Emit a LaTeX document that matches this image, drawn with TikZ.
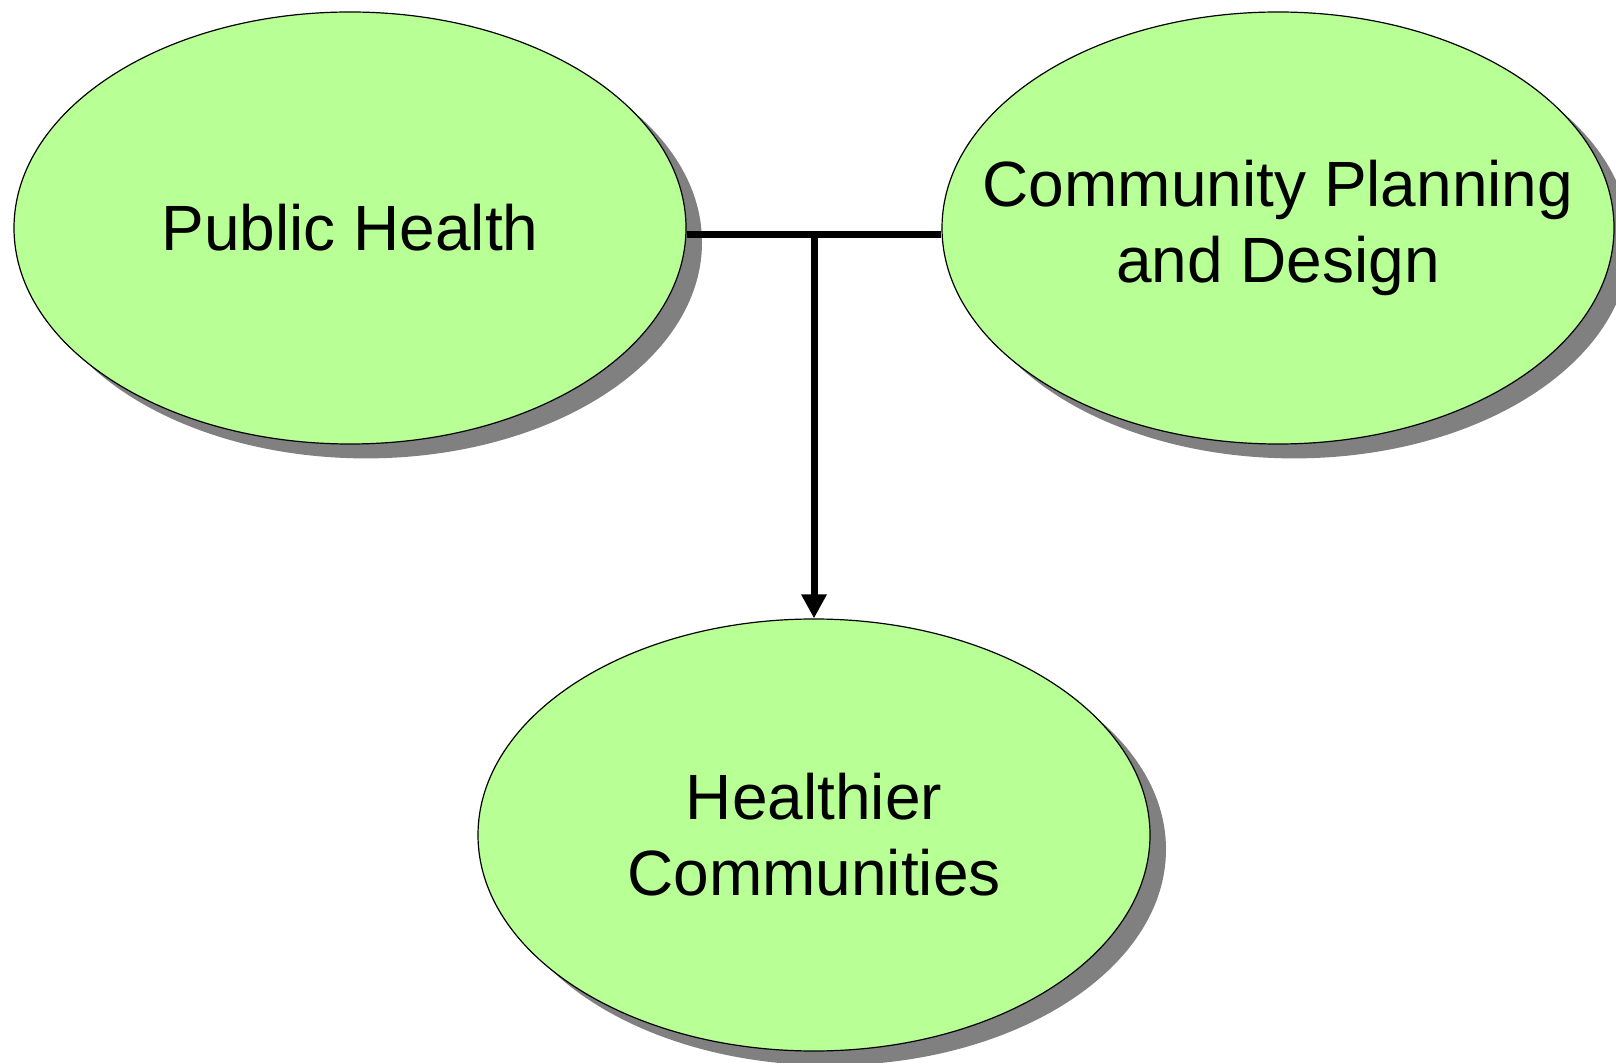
\documentclass[tikz,border=0pt]{standalone}
\usepackage{fontspec}
\setmainfont{Liberation Sans}
\usetikzlibrary{arrows.meta,shapes.geometric,shadows}
\definecolor{leaf}{RGB}{184,255,150}

\begin{document}
\begin{tikzpicture}[x=0.5pt,y=-0.5pt]
\tikzstyle{bubble} = [ellipse, draw=black, line width=0.6pt, fill=leaf,
minimum width=336pt, minimum height=216pt, inner xsep=-30pt, inner ysep=0pt,
align=center, font=\fontsize{32}{38}\selectfont,
drop shadow={shadow xshift=8pt, shadow yshift=-7.2pt, fill=black!50, opacity=1}]
\tikzstyle{line} = [draw, line width=3.5pt];
\tikzstyle{arrow} = [line, -{Triangle[length=12pt,width=12pt]}];
\useasboundingbox (0,0) rectangle (1616,1063);
% top row
\node [bubble] (health) at (350,228) {Public Health};
\node [bubble] (planning) at (1278,228) {Community Planning\\and Design};
% bottom
\node [bubble] (healthier) at (814,835) {Healthier\\Communities};
% connectors
\coordinate (join) at (814,235);
\path [line] (health.east |- join) -- (planning.west |- join);
\path [arrow] (join) -- (healthier.north);
\end{tikzpicture}
\end{document}
